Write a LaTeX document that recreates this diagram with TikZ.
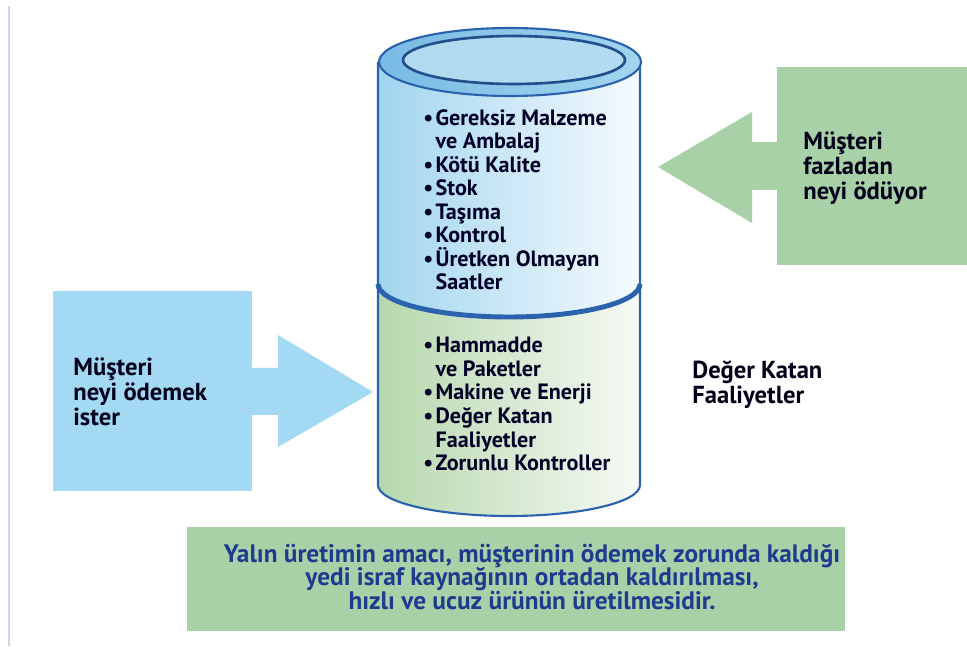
\documentclass[tikz,border=0pt]{standalone}
\usepackage{fontspec}
\setmainfont{PT Sans}

\definecolor{skyfill}{HTML}{A3D9F2}
\definecolor{leaffill}{HTML}{A8D1A8}
\definecolor{cylblue}{HTML}{A2D5EF}
\definecolor{cylgreen}{HTML}{B6D7AD}
\definecolor{cylline}{HTML}{2A62AE}
\definecolor{rimblue}{HTML}{78BBE4}
\definecolor{navytext}{HTML}{1F3B8F}
\definecolor{edgeline}{HTML}{C9D8EC}

\newcommand{\blt}{\makebox[7pt][l]{\textbullet}}
\newcommand{\ind}{\hspace*{7pt}}

\begin{document}
\begin{tikzpicture}[
x=0.02cm, y=0.02cm,
lbl/.style={
font=\bfseries\fontsize{14}{14.2}\selectfont,
align=left,
inner sep=0pt,
anchor=west,
text=black!90!blue
},
lst/.style={
font=\bfseries\fontsize{12.6}{13.4}\selectfont,
align=left,
inner sep=0pt,
anchor=north west,
text=black!85!blue
},
wall/.style={draw=cylline, line width=1.2pt}
]

\useasboundingbox (0,0) rectangle (967,646);
\fill[white] (0,0) rectangle (967,646);
\draw[edgeline, line width=1pt] (9,0) -- (9,640);

% customer boxes with arrows
\fill[skyfill] (53,155) rectangle (252,355);
\fill[skyfill] (252,231) -- (278,231) -- (278,199) -- (373,254)
  -- (278,311) -- (278,278) -- (252,278) -- cycle;
\fill[leaffill] (777,381) rectangle (967,579);
\fill[leaffill] (777,456) -- (752,456) -- (752,423) -- (658,479)
  -- (752,534) -- (752,504) -- (777,504) -- cycle;
\fill[leaffill] (187,15) rectangle (845,119);

% cylinder
\shade[left color=cylblue, right color=cylblue!10] (378,584) -- (378,362)
  arc[start angle=180, end angle=360, x radius=131, y radius=33] -- (640,584) -- cycle;
\shade[left color=cylgreen, right color=cylgreen!12] (378,362)
  arc[start angle=180, end angle=360, x radius=131, y radius=33] -- (640,161)
  arc[start angle=0, end angle=-180, x radius=131, y radius=31] -- cycle;
\draw[wall] (378,584) -- (378,161)
  arc[start angle=180, end angle=360, x radius=131, y radius=31] -- (640,584);
\draw[cylline, line width=2.8pt] (378,362)
  arc[start angle=180, end angle=360, x radius=131, y radius=33];
\shade[left color=rimblue, right color=cylblue, draw=cylline, line width=1.2pt]
  (510,584) ellipse [x radius=131, y radius=34];
\filldraw[fill=cylblue!85, draw=cylline!80!black, line width=1.5pt]
  (514,586) ellipse [x radius=111, y radius=24];

\node[lst] (israf) at (423,537) {%
\blt Gereksiz Malzeme\\
\ind ve Ambalaj\\
\blt Kötü Kalite\\
\blt Stok\\
\blt Taşıma\\
\blt Kontrol\\
\blt Üretken Olmayan\\
\ind Saatler};

\node[lst] (deger) at (423,309) {%
\blt Hammadde\\
\ind ve Paketler\\
\blt Makine ve Enerji\\
\blt Değer Katan\\
\ind Faaliyetler\\
\blt Zorunlu Kontroller};

\node[lbl] (ister) at (73,254) {Müşteri\\neyi ödemek\\ister};
\node[lbl] (oduyor) at (803,478) {Müşteri\\fazladan\\neyi ödüyor};
\node[lbl] (faal) at (692,261) {Değer Katan\\Faaliyetler};

\node[lbl, anchor=center, align=center, text=navytext,
  font=\bfseries\fontsize{14.4}{13.6}\selectfont] (amac) at (532,69)
  {Yalın üretimin amacı, müşterinin ödemek zorunda kaldığı\\
   yedi israf kaynağının ortadan kaldırılması,\\
   hızlı ve ucuz ürünün üretilmesidir.};

\end{tikzpicture}
\end{document}
